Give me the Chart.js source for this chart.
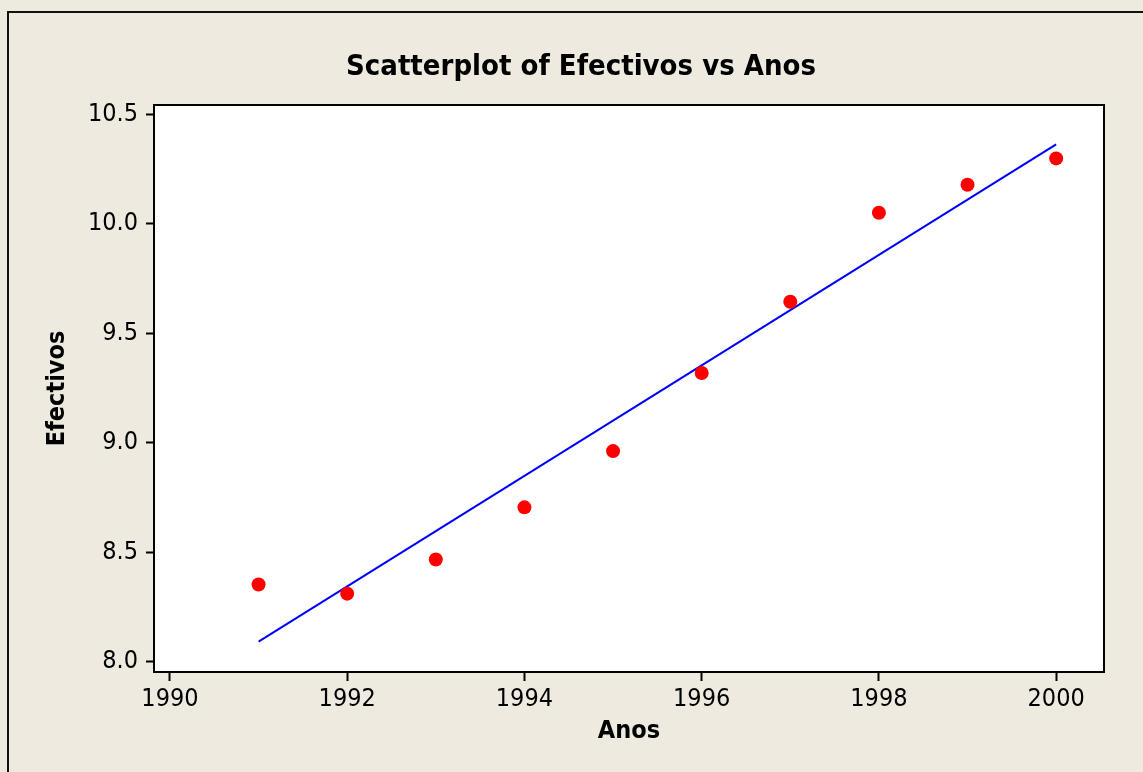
<!DOCTYPE html>
<html>
<head>
<meta charset="utf-8">
<script src="https://cdn.jsdelivr.net/npm/chart.js@4"></script>
<style>
    html, body { margin: 0; padding: 0; background: #EEEAE0; }
    #wrap { width: 1143px; height: 772px; position: relative; }
</style>
</head>
<body>
<div id="wrap"><canvas id="chart" width="1143" height="772"></canvas></div>
<script>
// ── Data ──

const YEARS = [1991, 1992, 1993, 1994, 1995, 1996, 1997, 1998, 1999, 2000];
const EFECTIVOS = [8.353, 8.311, 8.467, 8.705, 8.962, 9.319, 9.644, 10.051, 10.179, 10.299];

// fitted line, read at its two ends
const FIT_X = [1991, 2000];
const FIT_Y = [8.092, 10.363];

const X_TICKS = [1990, 1992, 1994, 1996, 1998, 2000];
const Y_TICKS = [8.0, 8.5, 9.0, 9.5, 10.0, 10.5];

const CHART_TITLE = "Scatterplot of Efectivos vs Anos";
const X_TITLE = "Anos";
const Y_TITLE = "Efectivos";

const FONT = "Tahoma, 'DejaVu Sans Condensed', 'DejaVu Sans', sans-serif";
const BG = "#EEEAE0";

// ── Frame + title plugin ──

const framePlugin = {
    id: "frame",
    beforeDraw(chart) {
        const ctx = chart.ctx;
        ctx.save();
        ctx.fillStyle = BG;
        ctx.fillRect(0, 0, chart.width, chart.height);
        // outer frame (only left/top visible in the picture)
        ctx.strokeStyle = "#111";
        ctx.lineWidth = 2;
        ctx.beginPath();
        ctx.moveTo(8, chart.height + 5);
        ctx.lineTo(8, 12);
        ctx.lineTo(chart.width + 5, 12);
        ctx.stroke();
        // plot area
        const a = chart.chartArea;
        ctx.fillStyle = "#FFFFFF";
        ctx.fillRect(a.left, a.top, a.right - a.left, a.bottom - a.top);
        ctx.restore();
    },
    afterDraw(chart) {
        const ctx = chart.ctx;
        const a = chart.chartArea;
        ctx.save();
        ctx.strokeStyle = "#000";
        ctx.lineWidth = 2;
        ctx.strokeRect(a.left, a.top, a.right - a.left, a.bottom - a.top);
        ctx.fillStyle = "#000";
        ctx.font = "bold 29px " + FONT;
        ctx.textAlign = "center";
        ctx.textBaseline = "middle";
        ctx.fillText(CHART_TITLE, 581, 67);
        ctx.restore();
    }
};

// ── Chart ──

new Chart(document.getElementById("chart"), {
    type: "scatter",
    data: {
        datasets: [
            {
                label: "Fit",
                type: "line",
                data: FIT_X.map((x, i) => ({ x: x, y: FIT_Y[i] })),
                borderColor: "#0000FF",
                borderWidth: 2,
                pointRadius: 0,
                fill: false,
                tension: 0,
                order: 2,
            },
            {
                label: "Efectivos",
                data: YEARS.map((x, i) => ({ x: x, y: EFECTIVOS[i] })),
                backgroundColor: "#FF0000",
                borderWidth: 0,
                pointRadius: 7,
                order: 1,
            },
        ],
    },
    options: {
        responsive: false,
        animation: false,
        layout: { padding: { left: 0, right: 39, top: 105, bottom: 0 } },
        plugins: {
            legend: { display: false },
            tooltip: { enabled: false },
            title: { display: false },
        },
        scales: {
            x: {
                type: "linear",
                min: 1989.82,
                max: 2000.54,
                afterBuildTicks: s => { s.ticks = X_TICKS.map(v => ({ value: v })); },
                afterFit: s => { s.height = 100; },
                grid: { drawOnChartArea: false, drawTicks: true, tickLength: 9, tickColor: "#000", tickWidth: 2 },
                border: { display: false },
                ticks: {
                    color: "#000",
                    padding: 3,
                    maxRotation: 0,
                    font: { family: FONT, size: 25 },
                    callback: v => String(v),
                },
                title: {
                    display: true,
                    text: X_TITLE,
                    color: "#000",
                    font: { family: FONT, size: 25, weight: "bold" },
                    padding: { top: 26, bottom: 26 },
                },
            },
            y: {
                min: 7.953,
                max: 10.543,
                afterBuildTicks: s => { s.ticks = Y_TICKS.map(v => ({ value: v })); },
                afterFit: s => { s.width = 154; },
                grid: { drawOnChartArea: false, drawTicks: true, tickLength: 8, tickColor: "#000", tickWidth: 2 },
                border: { display: false },
                ticks: {
                    color: "#000",
                    padding: 8,
                    font: { family: FONT, size: 25 },
                    callback: v => v.toFixed(1),
                },
                title: {
                    display: true,
                    text: Y_TITLE,
                    color: "#000",
                    font: { family: FONT, size: 25, weight: "bold" },
                    padding: { top: 42, bottom: 0 },
                },
            },
        },
    },
    plugins: [framePlugin],
});
</script>
</body>
</html>
